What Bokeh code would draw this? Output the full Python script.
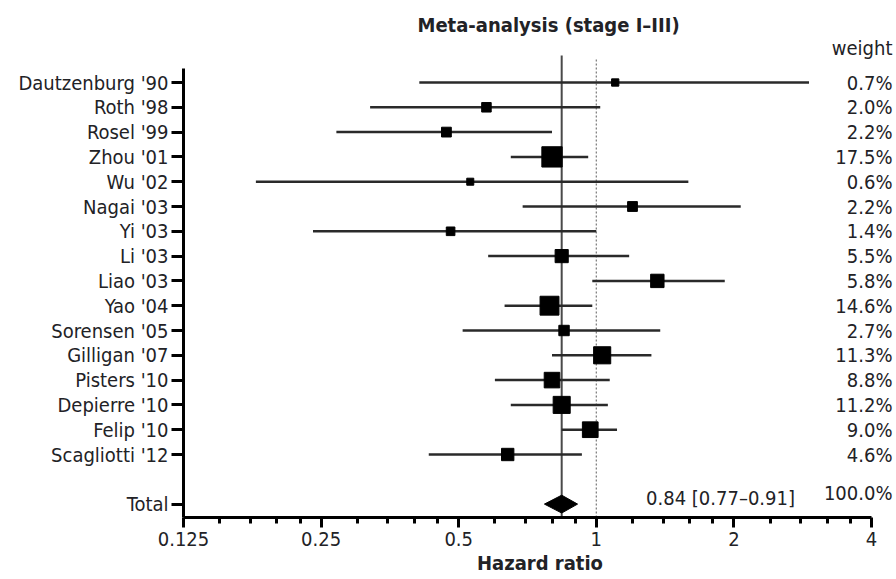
import math
from bokeh.plotting import figure
from bokeh.models import Range1d, FixedTicker, CustomJSTickFormatter, ColumnDataSource
from bokeh.core.properties import value
from bokeh.embed import file_html
from bokeh.resources import INLINE

# ---------------- data ----------------
studies = ["Dautzenburg '90", "Roth '98", "Rosel '99", "Zhou '01", "Wu '02", "Nagai '03",
           "Yi '03", "Li '03", "Liao '03", "Yao '04", "Sorensen '05", "Gilligan '07",
           "Pisters '10", "Depierre '10", "Felip '10", "Scagliotti '12"]
hr = [1.10, 0.575, 0.47, 0.80, 0.53, 1.20, 0.48, 0.84, 1.36, 0.79, 0.85, 1.03, 0.80, 0.84, 0.97, 0.64]
ci_low = [0.41, 0.32, 0.27, 0.65, 0.18, 0.69, 0.24, 0.58, 0.98, 0.63, 0.51, 0.80, 0.60, 0.65, 0.84, 0.43]
ci_high = [2.92, 1.02, 0.80, 0.96, 1.59, 2.07, 1.00, 1.18, 1.91, 0.98, 1.38, 1.32, 1.07, 1.06, 1.11, 0.93]
weights = [0.7, 2.0, 2.2, 17.5, 0.6, 2.2, 1.4, 5.5, 5.8, 14.6, 2.7, 11.3, 8.8, 11.2, 9.0, 4.6]
total_label = "Total"
total_hr = 0.84
total_low = 0.77
total_high = 0.91
total_weight = 100.0
x_ticks = [0.125, 0.25, 0.5, 1, 2, 4]
minor_factors = [1.2, 1.4, 1.6, 1.8]
title_text = "Meta-analysis (stage I\u2013III)"
x_label = "Hazard ratio"
weight_header = "weight"

# ---------------- layout constants ----------------
W, H = 896, 579
FL, FR, FT, FB = 183, 896, 38, 517          # frame edges (px)
AX_R = 871                                   # px where x = 4
ROW0, ROW = 82, 24.8                          # first row centre, row spacing (px)
PPO = (AX_R - FL) / 5.0                       # px per doubling

def px2x(px):
    return x_ticks[0] * 2 ** ((px - FL) / PPO)

FONT = "'DejaVu Sans Condensed', 'Liberation Sans Narrow', 'Roboto Condensed', 'Open Sans', sans-serif"
TXT = "#222226"
FS = "20px"

n = len(studies)
ys = [-i for i in range(n)]
total_y = -(n + 1)

y_top = (ROW0 - FT) / ROW
y_bot = -(FB - ROW0) / ROW

p = figure(width=W, height=H, x_axis_type="log",
           x_range=Range1d(x_ticks[0], px2x(FR)),
           y_range=Range1d(y_bot, y_top),
           output_backend="svg", toolbar_location=None,
           min_border_left=FL, min_border_right=0, min_border_top=FT,
           min_border_bottom=H - FB)
p.outline_line_color = None
p.grid.visible = False
p.background_fill_color = "white"
p.border_fill_color = "white"

# title
p.title.text = title_text
p.title.text_font = FONT
p.title.text_font_style = "bold"
p.title.text_font_size = "20px"
p.title.text_color = TXT
p.title.align = "left"
p.title.offset = 234
p.title.standoff = 4

# reference lines
p.segment(x0=[total_hr], x1=[total_hr], y0=[(ROW0 - 55) / ROW], y1=[y_bot],
          line_color="#4a4a4a", line_width=2)
p.segment(x0=[1], x1=[1], y0=[(ROW0 - 59) / ROW], y1=[y_bot],
          line_color="#777777", line_width=1.2, line_dash="2 2")

# CIs and squares
src = ColumnDataSource(dict(y=ys, hr=hr, lo=ci_low, hi=ci_high,
                            size=[4 + 3.9 * math.sqrt(w) for w in weights],
                            wlab=["%.1f%%" % w for w in weights],
                            wx=[px2x(892)] * n))
p.segment(x0="lo", x1="hi", y0="y", y1="y", source=src, line_color="#2a2a2a", line_width=2.5)
p.scatter(x="hr", y="y", size="size", marker="square", source=src,
          fill_color="black", line_color="black")

# total diamond
dh = 0.36
p.patch(x=[total_low, total_hr, total_high, total_hr],
        y=[total_y, total_y + dh, total_y, total_y - dh],
        fill_color="black", line_color="black")

# weights column
p.text(x="wx", y="y", text="wlab", source=src, text_align="right", text_baseline="middle",
       text_font=value(FONT), text_font_size=FS, text_color=TXT)
p.text(x=[px2x(892)], y=[(ROW0 - 47) / ROW], text=[weight_header], text_align="right",
       text_baseline="middle", text_font=value(FONT), text_font_size=FS, text_color=TXT)
p.text(x=[px2x(892)], y=[total_y + 0.45], text=["%.1f%%" % total_weight], text_align="right",
       text_baseline="middle", text_font=value(FONT), text_font_size=FS, text_color=TXT)
p.text(x=[px2x(720)], y=[total_y + 0.25],
       text=["%.2f [%.2f\u2013%.2f]" % (total_hr, total_low, total_high)],
       text_align="center", text_baseline="middle", text_font=value(FONT),
       text_font_size=FS, text_color=TXT)

# x axis
xa = p.xaxis[0]
xa.bounds = (x_ticks[0], x_ticks[-1])
xa.ticker = FixedTicker(ticks=x_ticks,
                        minor_ticks=[t * f for t in x_ticks[:-1] for f in minor_factors])
xa.formatter = CustomJSTickFormatter(code="return tick.toString();")
xa.axis_line_width = 3
xa.axis_line_color = "black"
xa.major_tick_line_width = 3
xa.minor_tick_line_width = 3
xa.major_tick_in = 0
xa.major_tick_out = 10
xa.minor_tick_in = 0
xa.minor_tick_out = 6
xa.major_label_standoff = 4
xa.major_label_text_font = FONT
xa.major_label_text_font_size = FS
xa.major_label_text_color = TXT
xa.axis_label = x_label
xa.axis_label_text_font = FONT
xa.axis_label_text_font_style = "bold"
xa.axis_label_text_font_size = FS
xa.axis_label_text_color = TXT
xa.axis_label_standoff = 2

# y axis
ya = p.yaxis[0]
ya.bounds = (y_bot, (ROW0 - 68) / ROW)
ya.ticker = FixedTicker(ticks=ys + [total_y], minor_ticks=[])
ya.formatter = CustomJSTickFormatter(args=dict(names=studies, tl=total_label, ty=total_y),
                                     code="const i = Math.round(-tick); return (Math.round(tick) == ty) ? tl : names[i];")
ya.axis_line_width = 3
ya.axis_line_color = "black"
ya.major_tick_line_width = 3
ya.major_tick_in = 0
ya.major_tick_out = 12
ya.major_label_standoff = 3
ya.major_label_text_font = FONT
ya.major_label_text_font_size = FS
ya.major_label_text_color = TXT

open("out.html", "w").write(file_html(p, INLINE))
